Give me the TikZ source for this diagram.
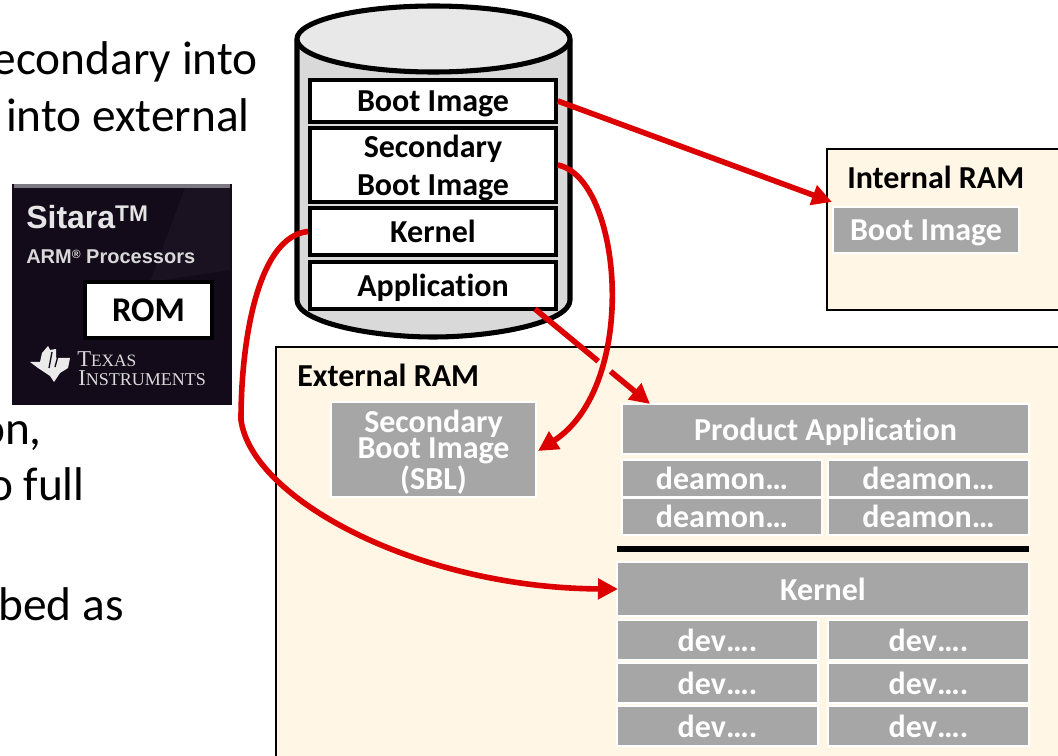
\documentclass[tikz,border=0pt]{standalone}
\usepackage{fontspec}
\setmainfont[Ligatures=NoCommon]{Carlito}
\newfontfamily\heros{Liberation Sans}
\newfontfamily\tiserif{Liberation Serif}
\usetikzlibrary{arrows.meta}
\definecolor{cream}{HTML}{FFF6E5}
\definecolor{boxgrey}{HTML}{A6A6A6}
\definecolor{arrowred}{HTML}{DD0000}
\definecolor{chipdark}{HTML}{130A1A}
\newcommand{\rectnode}[7][]{%
  \pgfmathsetmacro{\rcx}{(#3+#5)/2}\pgfmathsetmacro{\rcy}{(#4+#6)/2}%
  \pgfmathsetmacro{\rw}{(#5-#3)*0.75}\pgfmathsetmacro{\rh}{(#6-#4)*0.75}%
  \node[#1,minimum width=\rw pt,minimum height=\rh pt] (#2) at (\rcx,\rcy) {#7};}
\tikzset{
  x=0.75pt,y=-0.75pt,
  grey/.style={draw=white,line width=0.9pt,fill=boxgrey,text=white,font=\fontsize{24}{24}\selectfont\bfseries,inner sep=0pt,align=center,text depth=0pt},
  disk/.style={draw=black,line width=2.7pt,fill=white,text=black,font=\fontsize{24}{28.5}\selectfont\bfseries,inner sep=0pt,align=center,text depth=0pt},
  ram/.style={draw=black,line width=1.9pt,fill=cream},
  ramlabel/.style={font=\fontsize{24}{24}\selectfont\bfseries,anchor=base west,inner sep=0pt},
  body/.style={font=\fontsize{35.5}{36}\selectfont,anchor=base east,inner sep=0pt},
  link/.style={draw=arrowred,line width=4.2pt,-{Triangle[length=15pt,width=15pt]}},
}
\begin{document}
\begin{tikzpicture}
\clip (0,0) rectangle (1058,756);
\fill[white] (0,0) rectangle (1058,756);

% clipped body text
\node[body] (t1) at (258,75) {econdary into};
\node[body] (t2) at (250,132) {into external};
\node[body] (t3) at (42,444) {on,};
\node[body] (t4) at (85,500) {o full};
\node[body] (t5) at (124,620) {bed as};

% chip
\fill[chipdark] (12,184) rectangle (232,405);
\fill[white!45!chipdark] (14,184) rectangle (230,188);
\fill[white,opacity=0.03] (185,188) -- (230,188) -- (230,270) -- (150,282) -- cycle;
\node[font=\heros\bfseries\fontsize{24}{24}\selectfont,text=white!90!black,anchor=base west,inner sep=0pt] (sitara) at (26,229) {Sitara\raisebox{0.45ex}{\fontsize{17}{17}\selectfont TM}};
\node[font=\heros\bfseries\fontsize{15}{15}\selectfont,text=white!85!black,anchor=base west,inner sep=0pt] (arm) at (26,264) {ARM\raisebox{0.5ex}{\fontsize{9}{9}\selectfont ®} Processors};
\rectnode[draw=black,line width=3.7pt,fill=white,font=\fontsize{26}{26}\selectfont\bfseries,inner sep=0pt,text depth=0pt]{rom}{85}{282}{212}{338}{ROM}
\fill[white!92!black] (30,362) -- (40,362) -- (42,353) -- (48,346) -- (50,350) -- (56,349) -- (56,358) -- (70,358) -- (68,368) -- (60,373) -- (54,382) -- (50,376) -- (44,372) -- (38,368) -- cycle;
\draw[chipdark,line width=1pt] (52,352) -- (49,368) (58,356) -- (55,367);
\node[font=\tiserif\fontsize{17}{17}\selectfont,text=white!85!black,anchor=base west,inner sep=0pt] (texas) at (77,367) {T\fontsize{13}{13}\selectfont EXAS};
\node[font=\tiserif\fontsize{17}{17}\selectfont,text=white!85!black,anchor=base west,inner sep=0pt] (instr) at (78,386) {I\fontsize{13.5}{13.5}\selectfont NSTRUMENTS};

% internal RAM
\path[ram] (827,149) rectangle (1070,310);
\node[ramlabel] (intlabel) at (847,189) {Internal RAM};
\rectnode[grey]{intboot}{833}{207}{1019}{253}{Boot Image}

% external RAM
\path[ram] (276,347) rectangle (1070,770);
\node[ramlabel] (extlabel) at (297,387) {External RAM};
\rectnode[grey,font=\fontsize{24}{20}\selectfont\bfseries]{sbl}{331}{402}{536}{497}{Secondary\\Boot Image\\(SBL)}
\rectnode[grey]{prod}{622}{404}{1029}{454}{Product Application}
\rectnode[grey]{da1}{622}{460}{822}{497}{deamon…}
\rectnode[grey]{da2}{828}{460}{1029}{497}{deamon…}
\rectnode[grey]{da3}{622}{498}{822}{535}{deamon…}
\rectnode[grey]{da4}{828}{498}{1029}{535}{deamon…}
\fill[black] (617,546) rectangle (1029,552);
\rectnode[grey]{kern}{617}{562}{1029}{616}{Kernel}
\rectnode[grey]{dv1}{617}{620}{818}{660}{dev….}
\rectnode[grey]{dv2}{828}{620}{1029}{660}{dev….}
\rectnode[grey]{dv3}{617}{663}{818}{703}{dev….}
\rectnode[grey]{dv4}{828}{663}{1029}{703}{dev….}
\rectnode[grey]{dv5}{617}{706}{818}{746}{dev….}
\rectnode[grey]{dv6}{828}{706}{1029}{746}{dev….}

% disk cylinder
\draw[line width=3.8pt,fill=black!15,line join=round]
  (297,40) -- (297,300) .. controls (297,322) and (370,337) .. (433,337)
  .. controls (496,337) and (570,322) .. (570,300) -- (570,40) -- cycle;
\draw[line width=3.8pt,fill=black!9] (433.5,39) ellipse [x radius=136.5, y radius=33];
\rectnode[disk]{dboot}{310}{80}{556}{122}{Boot Image}
\rectnode[disk]{dsec}{310}{128}{556}{202}{Secondary\\Boot Image}
\rectnode[disk]{dkern}{310}{208}{556}{255}{Kernel}
\rectnode[disk]{dapp}{310}{262}{556}{309}{Application}

% connector ends
\coordinate (tipint) at (832,202);
\coordinate (tipsbl) at (538,451);
\coordinate (tipkern) at (618,589);
\coordinate (tipprod) at (650,404);
\coordinate (apps) at (535,309);
\coordinate (kbend) at (241,420);

% connectors
\draw[link] (dboot.east) -- (tipint);
\draw[link,dash pattern=on 61.5pt off 12pt on 200pt] (apps) -- (tipprod);
\draw[link] (dsec.east) .. controls (622,178) and (640,385) .. (tipsbl);
\draw[link] (dkern.west) .. controls (258,236) and (241,340) .. (kbend) .. controls (252,500) and (420,588) .. (tipkern);
\end{tikzpicture}
\end{document}
